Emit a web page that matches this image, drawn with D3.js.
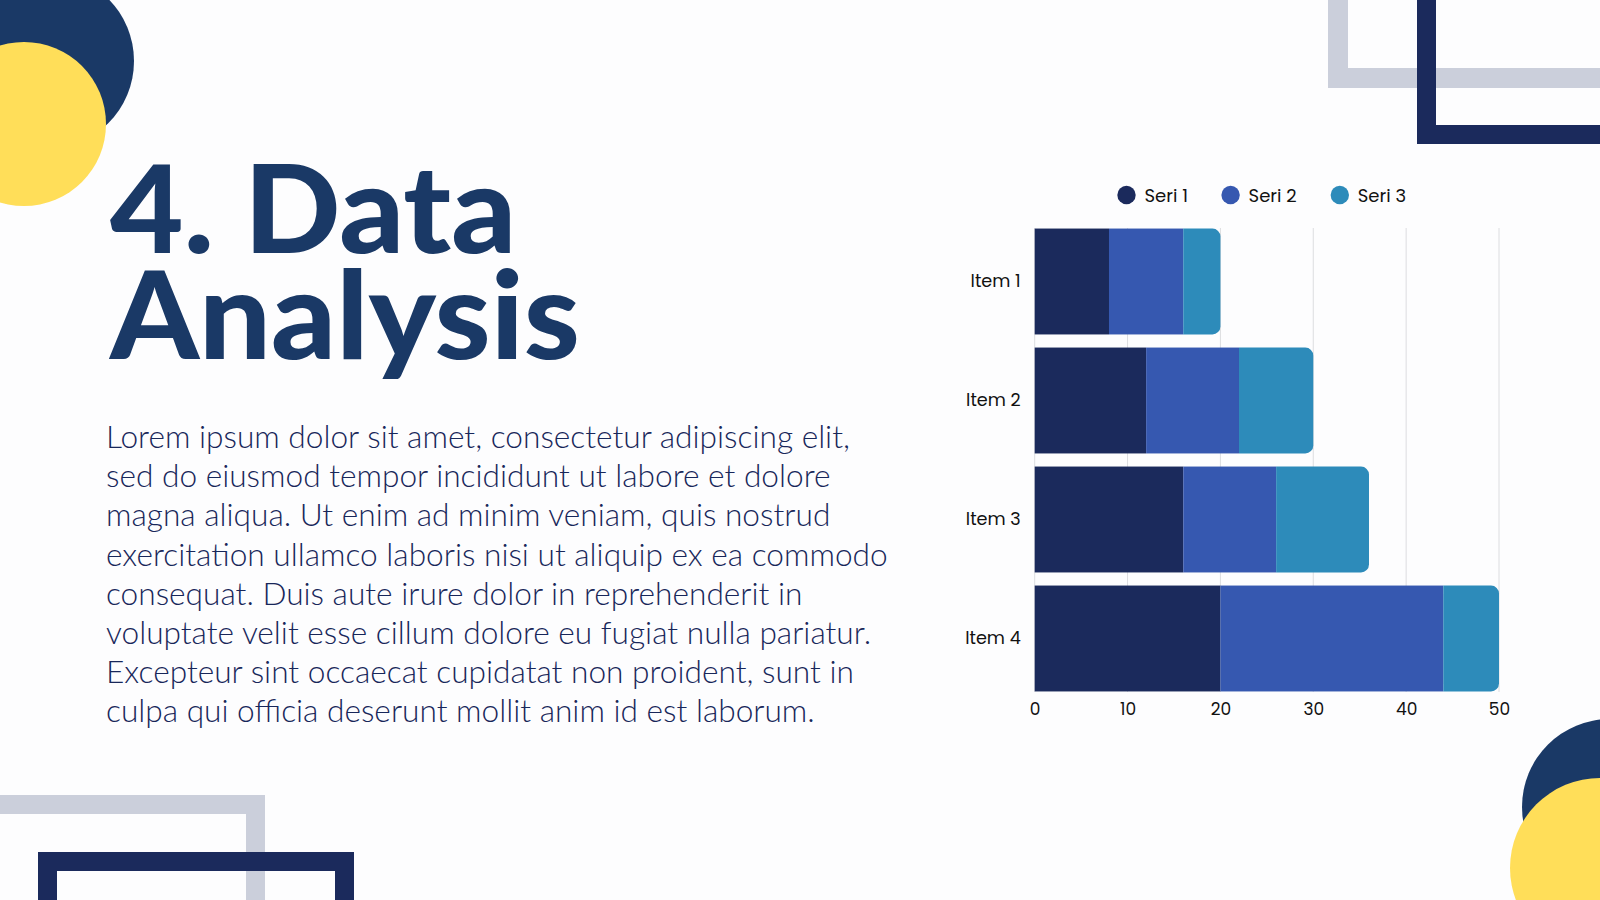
<!DOCTYPE html>
<html>
<head>
<meta charset="utf-8">
<script src="https://cdn.jsdelivr.net/npm/d3@7"></script>
<style>
  html, body { margin: 0; padding: 0; background: #fdfdfe; }
  #wrap { position: relative; width: 1600px; height: 900px; overflow: hidden; }
  svg { display: block; position: absolute; left: 0; top: 0; }
  #title { position: absolute; left: 110px; top: 152.8px; margin: 0; white-space: nowrap;
    font-family: Lato, 'Noto Sans', sans-serif; font-weight: 900; font-size: 122px;
    line-height: 106px; color: #1a3966; transform-origin: 0 0; }
</style>
</head>
<body>
<div id="wrap">
<svg id="chart" width="1600" height="900"></svg>
<div id="title"></div>
</div>
<script>
// ---- data ----
const categories = ["Item 1", "Item 2", "Item 3", "Item 4"];
const seriesNames = ["Seri 1", "Seri 2", "Seri 3"];
const seri1 = [8, 12, 16, 20];
const seri2 = [8, 10, 10, 24];
const seri3 = [4, 8, 10, 6];
const xTicks = [0, 10, 20, 30, 40, 50];
const titleLines = ["4. Data", "Analysis"];
const paragraphLines = [
  "Lorem ipsum dolor sit amet, consectetur adipiscing elit,",
  "sed do eiusmod tempor incididunt ut labore et dolore",
  "magna aliqua. Ut enim ad minim veniam, quis nostrud",
  "exercitation ullamco laboris nisi ut aliquip ex ea commodo",
  "consequat. Duis aute irure dolor in reprehenderit in",
  "voluptate velit esse cillum dolore eu fugiat nulla pariatur.",
  "Excepteur sint occaecat cupidatat non proident, sunt in",
  "culpa qui officia deserunt mollit anim id est laborum."
];

// ---- styles ----
const colors = ["#1b2a5c", "#3658b0", "#2d8bba"];
const navy = "#1a3966";
const navyDark = "#1b2a5c";
const yellow = "#ffde59";
const grey = "#cbcfdb";

const svg = d3.select("#chart");

// ---- decorations ----
const deco = svg.append("g");
deco.append("circle").attr("cx", 46).attr("cy", 61).attr("r", 88).attr("fill", navy);
deco.append("circle").attr("cx", 24).attr("cy", 124).attr("r", 82).attr("fill", yellow);
deco.append("circle").attr("cx", 1610).attr("cy", 807).attr("r", 88).attr("fill", navy);
deco.append("circle").attr("cx", 1600).attr("cy", 868).attr("r", 90).attr("fill", yellow);
deco.append("rect").attr("x", 1338).attr("y", -100).attr("width", 400).attr("height", 178)
  .attr("fill", "none").attr("stroke", grey).attr("stroke-width", 20);
deco.append("rect").attr("x", 1426.5).attr("y", -100).attr("width", 400).attr("height", 234.5)
  .attr("fill", "none").attr("stroke", navyDark).attr("stroke-width", 19);
deco.append("rect").attr("x", -200).attr("y", 804.5).attr("width", 455.5).attr("height", 300)
  .attr("fill", "none").attr("stroke", grey).attr("stroke-width", 19);
deco.append("rect").attr("x", 47.5).attr("y", 861.5).attr("width", 297).attr("height", 300)
  .attr("fill", "none").attr("stroke", navyDark).attr("stroke-width", 19);

// ---- title: one block with a line break ----
const titleDiv = d3.select("#title");
titleDiv.html(titleLines.join("<br>"));
// scale horizontally so the longer line matches the reference width (~470px)
{
  const c = document.createElement("canvas").getContext("2d");
  c.font = "900 122px Lato, 'Noto Sans', sans-serif";
  const wA = c.measureText(titleLines[1]).width;
  const sx = 470 / wA;
  titleDiv.style("transform", `scaleX(${sx})`);
}

// ---- paragraph ----
const para = svg.append("g");
const paraTexts = para.selectAll("text").data(paragraphLines).join("text")
  .attr("x", 106)
  .attr("y", (d, i) => 448 + i * 39.2)
  .attr("font-family", "Lato, 'Noto Sans', sans-serif")
  .attr("font-weight", 300)
  .attr("font-size", 29)
  .attr("fill", "#18275a")
  .text(d => d);
const w4 = paraTexts.nodes()[3].getComputedTextLength();
const fs = 29 * 782 / w4;
paraTexts.attr("font-size", fs);

// ---- chart ----
const x = d3.scaleLinear().domain([0, 50]).range([1034.7, 1499]);
const y = d3.scaleBand().domain(categories).range([222, 698]).paddingInner(0.11).paddingOuter(0.055);

const table = categories.map((c, i) => ({ cat: c, "Seri 1": seri1[i], "Seri 2": seri2[i], "Seri 3": seri3[i] }));
const stacked = d3.stack().keys(seriesNames)(table);

const gridG = svg.append("g");
gridG.selectAll("line").data(xTicks).join("line")
  .attr("x1", d => x(d)).attr("x2", d => x(d))
  .attr("y1", y.range()[0] + 6).attr("y2", y.range()[1] - 6)
  .attr("stroke", "#dcdde0").attr("stroke-width", 1);

const fontChart = "Poppins, Inter, 'Noto Sans', sans-serif";
const r = 8;
stacked.forEach((layer, si) => {
  const g = svg.append("g").attr("fill", colors[si]);
  layer.forEach((d, i) => {
    const x0 = x(d[0]), x1 = x(d[1]);
    const y0 = y(categories[i]), h = y.bandwidth();
    if (si === stacked.length - 1) {
      const p = d3.path();
      p.moveTo(x0, y0);
      p.lineTo(x1 - r, y0);
      p.arcTo(x1, y0, x1, y0 + r, r);
      p.lineTo(x1, y0 + h - r);
      p.arcTo(x1, y0 + h, x1 - r, y0 + h, r);
      p.lineTo(x0, y0 + h);
      p.closePath();
      g.append("path").attr("d", p.toString());
    } else {
      g.append("rect").attr("x", x0).attr("y", y0).attr("width", x1 - x0).attr("height", h);
    }
  });
});

const xAxis = d3.axisBottom(x).tickValues(xTicks).tickSize(0).tickPadding(0).tickFormat(d3.format("d"));
const xg = svg.append("g").attr("transform", `translate(0, ${y.range()[1]})`).call(xAxis);
xg.select(".domain").remove();
xg.selectAll("text")
  .attr("y", 0).attr("dy", "0.35em")
  .attr("transform", "translate(0, 11)")
  .attr("font-family", fontChart).attr("font-size", 17).attr("fill", "#111");

const yAxis = d3.axisLeft(y).tickSize(0).tickPadding(14);
const yg = svg.append("g").attr("transform", `translate(${x(0)}, 0)`).call(yAxis);
yg.select(".domain").remove();
yg.selectAll("text").attr("font-family", fontChart).attr("font-size", 17.6).attr("fill", "#111");

const legendX = [1126.5, 1230.6, 1339.8];
const leg = svg.append("g");
seriesNames.forEach((s, i) => {
  leg.append("circle").attr("cx", legendX[i]).attr("cy", 195).attr("r", 9.2).attr("fill", colors[i]);
  leg.append("text").attr("x", legendX[i] + 18).attr("y", 196).attr("dy", "0.35em")
    .attr("font-family", fontChart).attr("font-size", 18).attr("fill", "#111").text(s);
});
</script>
</body>
</html>
